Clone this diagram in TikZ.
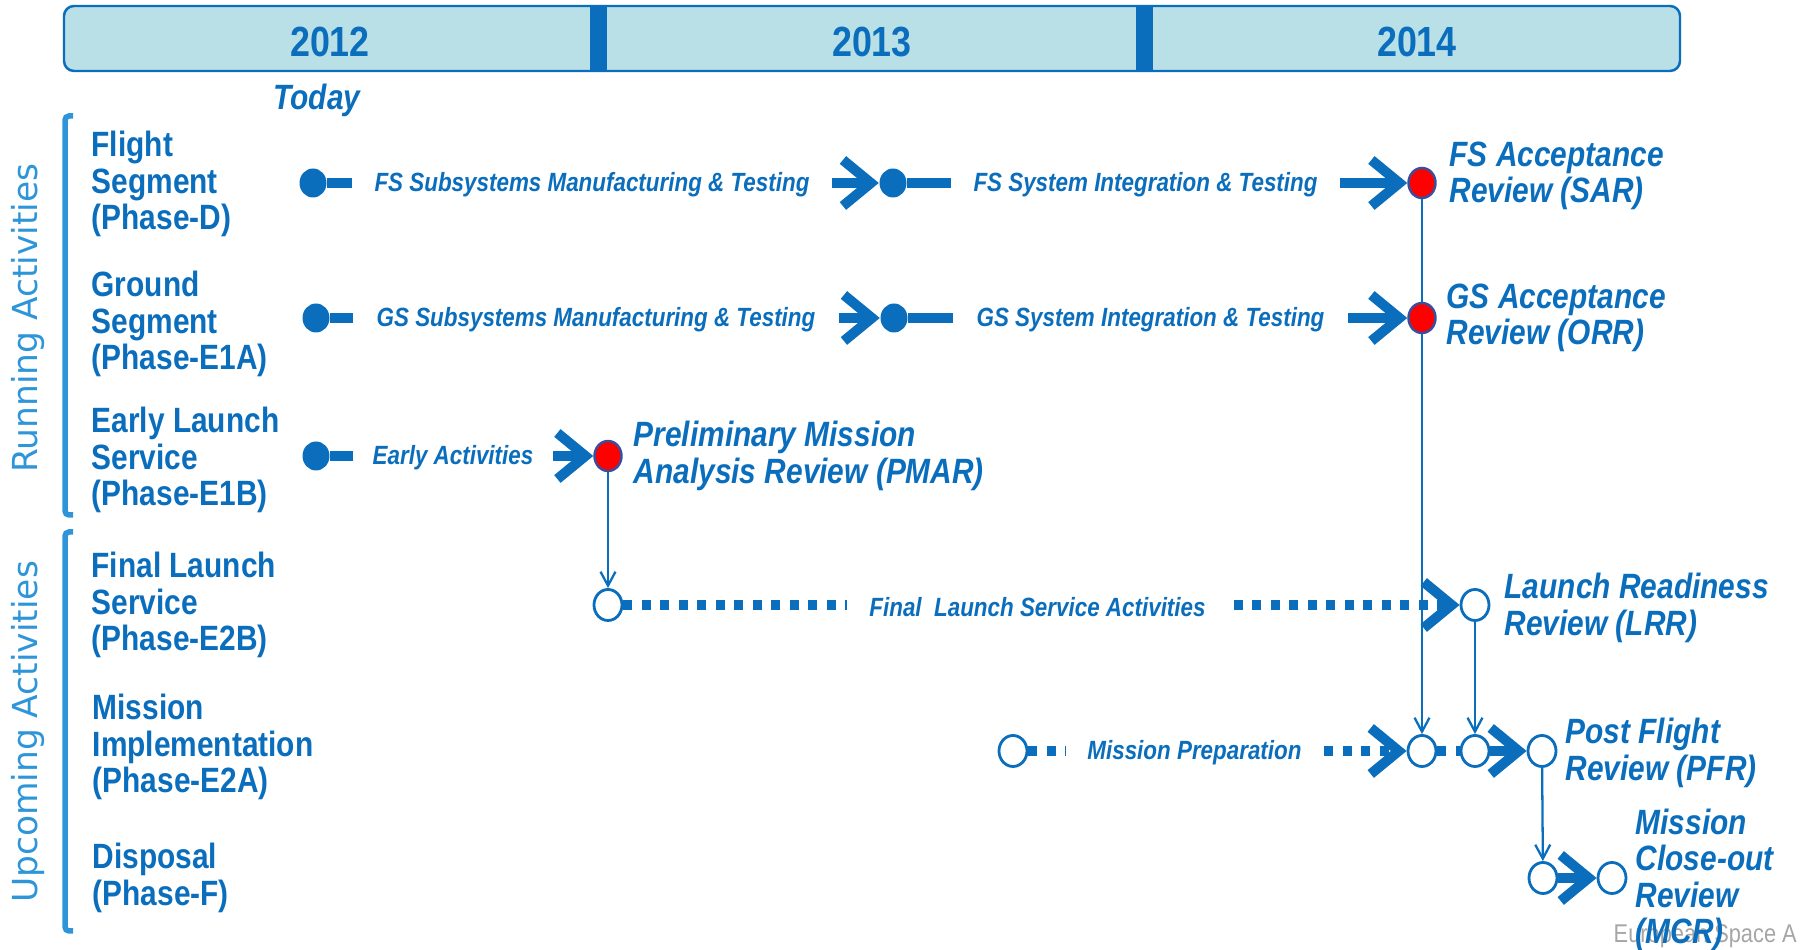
\documentclass[tikz,border=0pt]{standalone}
\usepackage{fontspec}
\setmainfont{Liberation Sans}
\newfontfamily\narrowfont[FakeStretch=0.85]{Liberation Sans}
\newfontfamily\sidefont{DejaVu Sans}
\usetikzlibrary{arrows.meta,shapes.geometric}

\definecolor{esablue}{HTML}{0A6EBD}
\definecolor{barfill}{HTML}{B9E0E7}
\definecolor{bracketblue}{HTML}{2E96D8}
\definecolor{revborder}{HTML}{3C4E9B}

\begin{document}
\begin{tikzpicture}[x=0.1mm,y=-0.1mm,
  phase/.style={anchor=west,align=left,inner sep=0,text=esablue,font=\narrowfont\bfseries\fontsize{10}{10.3}\selectfont},
  review/.style={anchor=west,align=left,inner sep=0,text=esablue,font=\narrowfont\bfseries\itshape\fontsize{10}{10.3}\selectfont},
  activity/.style={fill=white,inner xsep=0,inner ysep=0.6mm,text=esablue,font=\narrowfont\bfseries\itshape\fontsize{7.5}{9}\selectfont},
  startdot/.style={ellipse,fill=esablue,minimum width=2.7mm,minimum height=2.9mm,inner sep=0},
  reddot/.style={ellipse,fill=red,draw=revborder,line width=0.7pt,minimum width=2.7mm,minimum height=3mm,inner sep=0},
  opendot/.style={ellipse,fill=white,draw=esablue,line width=0.8pt,minimum width=2.8mm,minimum height=3.1mm,inner sep=0},
  chevron/.style={esablue,line width=1mm,-{Straight Barb[length=2.8mm,width=4.6mm]}},
  dots/.style={esablue,line width=1mm,dash pattern=on 0.9mm off 0.95mm},
  link/.style={esablue,line width=0.65pt,-{Straight Barb[length=1.4mm,width=1.5mm]}},
  bracket/.style={bracketblue,line width=0.55mm,rounded corners=0.4mm}]

\useasboundingbox (0,0) rectangle (1807,950);

% year bar
\draw[esablue,line width=0.7pt,fill=barfill,rounded corners=1mm] (64,6) rectangle (1680,71);
\foreach \x in {598,1144}
  \fill[esablue] (\x-8.5,6) rectangle (\x+8.5,71);
\node[text=esablue,font=\narrowfont\bfseries\fontsize{12}{14}\selectfont] (y2012) at (330,42) {2012};
\node[text=esablue,font=\narrowfont\bfseries\fontsize{12}{14}\selectfont] (y2013) at (872,42) {2013};
\node[text=esablue,font=\narrowfont\bfseries\fontsize{12}{14}\selectfont] (y2014) at (1417,42) {2014};
\node[text=esablue,font=\narrowfont\bfseries\itshape\fontsize{10}{12}\selectfont] (today) at (317,100) {Today};

% side brackets
\draw[bracket] (73,116) -- (65,116) -- (65,515) -- (73,515);
\draw[bracket] (73,532) -- (65,532) -- (65,931) -- (73,931);
\node[rotate=90,text=bracketblue,font=\sidefont\fontsize{9.8}{12}\selectfont] (running) at (28,318) {Running Activities};
\node[rotate=90,text=bracketblue,font=\sidefont\fontsize{9.8}{12}\selectfont] (upcoming) at (28,732) {Upcoming Activities};

% phase labels
\node[phase] (fs phase) at (91,184) {Flight\\Segment\\(Phase-D)};
\node[phase] (gs phase) at (91,324) {Ground\\Segment\\(Phase-E1A)};
\node[phase] (els phase) at (91,460) {Early Launch\\Service\\(Phase-E1B)};
\node[phase] (fls phase) at (91,605) {Final Launch\\Service\\(Phase-E2B)};
\node[phase] (mi phase) at (92,747) {Mission\\Implementation\\(Phase-E2A)};
\node[phase] (dis phase) at (92,878) {Disposal\\(Phase-F)};

% flight segment row
\node[startdot] (fs start) at (313,183) {};
\node[startdot] (fs mid) at (893,183) {};
\node[reddot] (sar) at (1422,183) {};
\draw[chevron] (fs start) -- (fs mid);
\draw[chevron] (fs mid) -- (sar);
\node[activity,minimum width=48mm] (fs sub) at (592,185) {FS Subsystems Manufacturing \& Testing};
\node[activity,minimum width=38.9mm] (fs sys) at (1145.5,185) {FS System Integration \& Testing};
\node[review] (sar label) at (1449,176) {FS Acceptance\\Review (SAR)};

% ground segment row
\node[startdot] (gs start) at (316,318) {};
\node[startdot] (gs mid) at (894,318) {};
\node[reddot] (orr) at (1422,318) {};
\draw[chevron] (gs start) -- (gs mid);
\draw[chevron] (gs mid) -- (orr);
\node[activity,minimum width=48.6mm] (gs sub) at (596,320) {GS Subsystems Manufacturing \& Testing};
\node[activity,minimum width=39.5mm] (gs sys) at (1150.5,320) {GS System Integration \& Testing};
\node[review] (orr label) at (1446,318) {GS Acceptance\\Review (ORR)};

% early launch service row
\node[startdot] (els start) at (316,456) {};
\node[reddot] (pmar) at (608,456) {};
\draw[chevron] (els start) -- (pmar);
\node[activity,minimum width=20mm] (els act) at (453,458) {Early Activities};
\node[review] (pmar label) at (633,456) {Preliminary Mission\\Analysis Review (PMAR)};

% final launch service row
\node[opendot] (fls start) at (608,605) {};
\node[opendot] (lrr) at (1475,605) {};
\draw[link] (pmar) -- (fls start);
\draw[dots,-{Straight Barb[length=2.8mm,width=4.6mm]}] (fls start) -- (lrr);
\node[activity,minimum width=38.1mm] (fls act) at (1037.5,607) {Final~ Launch Service Activities};
\node[review] (lrr label) at (1504,608) {Launch Readiness\\Review (LRR)};

% mission implementation row
\node[opendot] (mi start) at (1013,751) {};
\node[opendot] (mi a) at (1422,751) {};
\node[opendot] (mi b) at (1475,751) {};
\node[opendot] (pfr) at (1542,751) {};
\draw[dots,-{Straight Barb[length=2.8mm,width=4.6mm]}] (mi start) -- (mi a);
\draw[dots] (mi a) -- (mi b);
\draw[chevron] (mi b) -- (pfr);
\node[activity,minimum width=25.7mm] (mi act) at (1194.5,753) {Mission Preparation};
\node[review] (pfr label) at (1565,753) {Post Flight\\Review (PFR)};

% acceptance reviews feed the later milestones
\draw[esablue,line width=0.65pt] (sar) -- (orr);
\draw[link] (orr) -- (mi a);
\draw[link] (lrr) -- (mi b);

% disposal row
\node[opendot] (dis a) at (1543,878) {};
\node[opendot] (mcr) at (1612,878) {};
\draw[link] (pfr) -- (dis a);
\draw[chevron] (dis a) -- (mcr);
\node[anchor=west,inner sep=0,text=black!35,font=\narrowfont\fontsize{7.3}{8}\selectfont] (esa mark) at (1613,936) {European Space A};
\node[review] (mcr label) at (1635,880) {Mission\\Close-out\\Review\\(MCR)};

\end{tikzpicture}
\end{document}
